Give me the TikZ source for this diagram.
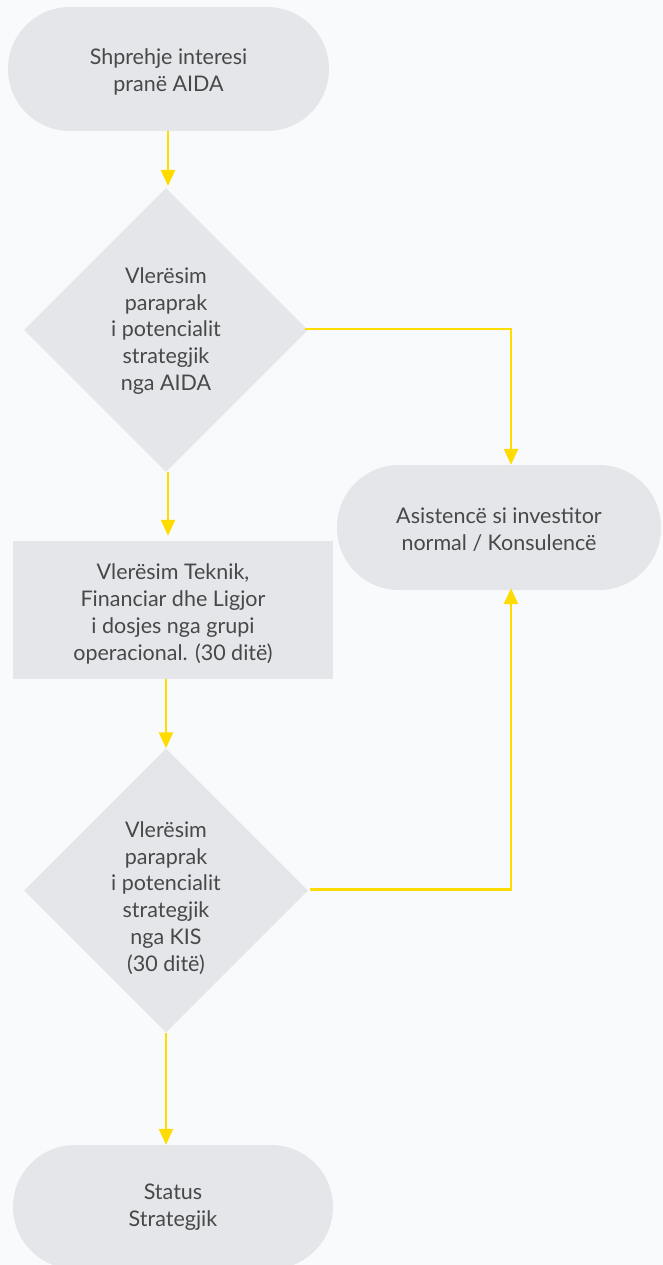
\documentclass[tikz,border=0pt]{standalone}
\usepackage{fontspec}
\setmainfont{Lato}
\usetikzlibrary{shapes.geometric,arrows.meta}
\definecolor{bg}{HTML}{F9FAFC}
\definecolor{boxgray}{HTML}{E4E6EA}
\definecolor{ylw}{HTML}{FFDC00}
\definecolor{txt}{HTML}{484848}
\newcommand\lbl[2]{\raisebox{#1}[\height][\depth]{\begin{tabular}{@{}c@{}}#2\end{tabular}}}
\begin{document}
\begin{tikzpicture}[x=1pt,y=-1pt,
  base/.style={fill=boxgray, draw=none, text=txt, align=center, font=\fontsize{21.5}{26.8}\selectfont, inner sep=0pt},
  pill/.style={base, rectangle, rounded corners=62pt, minimum width=321pt, minimum height=124pt},
  rbox/.style={base, rectangle, minimum width=320pt, minimum height=138pt},
  dia/.style={base, diamond, minimum width=284pt, minimum height=284pt},
  arr/.style={draw=ylw, line width=2.4pt, -{Triangle[width=14pt,length=16pt]}}]
\useasboundingbox (0,0) rectangle (663,1265);
\fill[bg] (0,0) rectangle (663,1265);
\clip (0,0) rectangle (663,1265);
\node[pill] (p1) at (168.5,69) {\lbl{-3.3pt}{Shprehje interesi\\pranë AIDA}};
\node[dia] (d1) at (166,330) {\lbl{-1.5pt}{Vlerësim\\paraprak\\i potencialit\\strategjik\\nga AIDA}};
\node[pill, minimum width=324pt, minimum height=125pt] (a) at (499,527.5) {\lbl{-3.8pt}{Asistencë si investitor\\normal / Konsulencë}};
\node[rbox] (r) at (173,610) {\lbl{-4.8pt}{Vlerësim Teknik,\\Financiar dhe Ligjor\\i dosjes nga grupi\\operacional. (30 ditë)}};
\node[dia] (d2) at (166,890.5) {\lbl{-8.4pt}{Vlerësim\\paraprak\\i potencialit\\strategjik\\nga KIS\\(30 ditë)}};
\node[pill, minimum width=320pt] (p2) at (173,1207) {\lbl{-1pt}{Status\\Strategjik}};
\draw[arr] (168,131) -- (168,186);
\draw[arr] (d1.south) ++(2,0) coordinate (s1) -- ([yshift=5pt]s1 |- r.north);
\draw[arr] ([xshift=-7pt]r.south) coordinate (s2) -- (s2 |- d2.north);
\draw[arr] (d2.south) -- (d2.south |- p2.north);
\draw[arr] ([xshift=-3pt,yshift=1pt]d1.east) -| ([xshift=12pt]a.north);
\draw[arr] ([xshift=2pt,yshift=1pt]d2.east) -| ([xshift=12pt,yshift=2pt]a.south);
\end{tikzpicture}
\end{document}
